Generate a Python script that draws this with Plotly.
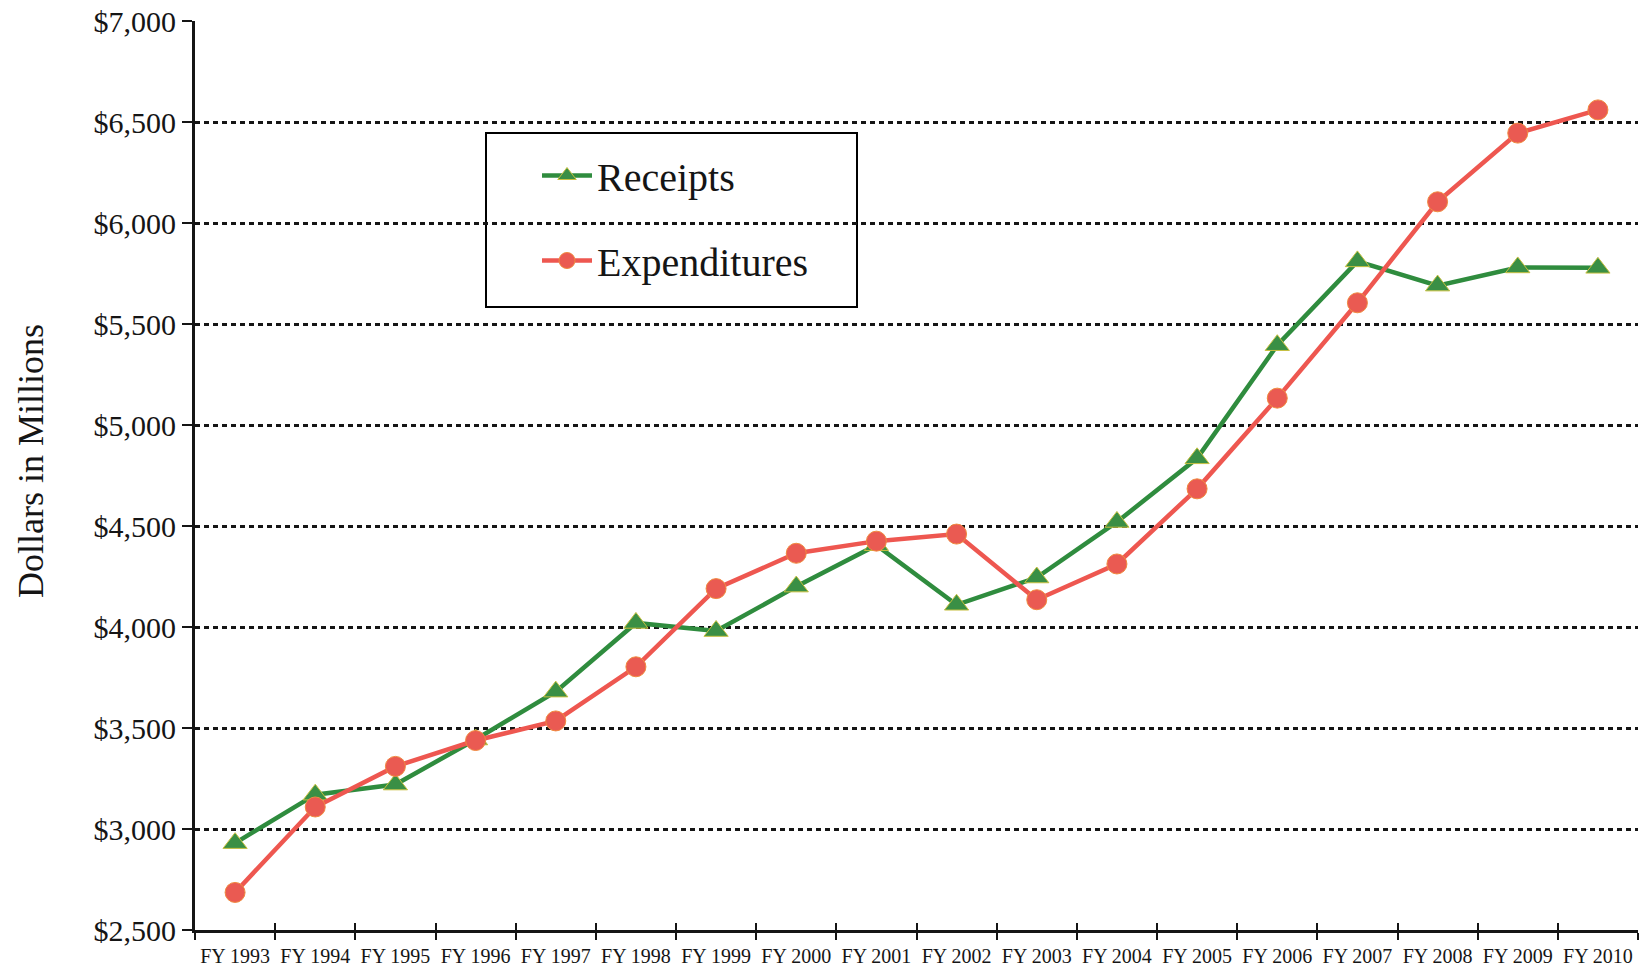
import plotly.graph_objects as go

years = ["FY 1993", "FY 1994", "FY 1995", "FY 1996", "FY 1997", "FY 1998",
         "FY 1999", "FY 2000", "FY 2001", "FY 2002", "FY 2003", "FY 2004",
         "FY 2005", "FY 2006", "FY 2007", "FY 2008", "FY 2009", "FY 2010"]
receipts = [2930, 3170, 3220, 3443, 3680, 4020, 3980, 4200, 4405, 4110,
            4245, 4520, 4835, 5395, 5810, 5690, 5780, 5778]
expenditures = [2686, 3109, 3310, 3438, 3535, 3803, 4190, 4365, 4425, 4460,
                4135, 4312, 4684, 5133, 5605, 6105, 6445, 6560]
y_ticks = [2500, 3000, 3500, 4000, 4500, 5000, 5500, 6000, 6500, 7000]
y_tick_labels = ["$2,500", "$3,000", "$3,500", "$4,000", "$4,500",
                 "$5,000", "$5,500", "$6,000", "$6,500", "$7,000"]

W, H = 1642, 971
ML, MR, MT, MB = 195, 4, 21, 41
PW, PH = W - ML - MR, H - MT - MB


def px_x(x):
    return (x - ML) / PW


def px_y(y):
    return (H - MB - y) / PH


SERIF = "Liberation Serif, Times New Roman, serif"
GREEN = "#2f8c3e"
RED = "#ee5750"
INK = "#151515"

fig = go.Figure()
fig.add_trace(go.Scatter(
    x=years, y=receipts, name="Receipts", mode="lines+markers",
    legendgroup="r",
    line=dict(color=GREEN, width=4.5),
    marker=dict(symbol="triangle-up", size=21, color="#3a8f45",
                line=dict(color="#c8c040", width=1)),
))
fig.add_trace(go.Scatter(
    x=years, y=expenditures, name="Expenditures", mode="lines+markers",
    legendgroup="e",
    line=dict(color=RED, width=4.5),
    marker=dict(symbol="circle", size=20, color="#ea5a52",
                line=dict(color="#f08a40", width=1)),
))
# helper trace on overlaid axis to draw the inner half of the crossing x ticks
fig.add_trace(go.Scatter(
    x=years, y=receipts, xaxis="x2", mode="lines", showlegend=False,
    hoverinfo="skip", line=dict(width=0), opacity=0,
))

# legend frame
fig.add_shape(type="rect", xref="paper", yref="paper",
              x0=px_x(486), x1=px_x(857), y0=px_y(307), y1=px_y(133),
              line=dict(color="black", width=2), fillcolor="white",
              layer="below")

fig.add_annotation(text="Dollars in Millions", textangle=-90,
                   xref="paper", yref="paper", x=px_x(31), y=px_y(461),
                   showarrow=False, font=dict(family=SERIF, size=36, color=INK),
                   xanchor="center", yanchor="middle")

fig.update_layout(
    width=W, height=H,
    margin=dict(l=ML, r=MR, t=MT, b=MB),
    paper_bgcolor="white", plot_bgcolor="rgba(0,0,0,0)",
    font=dict(family=SERIF, color=INK),
    showlegend=True,
    legend=dict(x=px_x(537), y=px_y(143), xanchor="left", yanchor="top",
                bgcolor="rgba(0,0,0,0)", borderwidth=0,
                font=dict(family=SERIF, size=40, color=INK),
                tracegroupgap=30, itemwidth=50),
    xaxis=dict(
        type="category", range=[-0.5, 17.5], tickson="boundaries",
        showgrid=False, showline=True, linecolor=INK, linewidth=3,
        ticks="outside", ticklen=7, tickwidth=2, tickcolor=INK,
        tickfont=dict(family=SERIF, size=20, color=INK),
        ticklabelstandoff=6,
        zeroline=False, fixedrange=True,
    ),
    xaxis2=dict(
        type="category", range=[-0.5, 17.5], tickson="boundaries",
        overlaying="x", anchor="y", side="bottom",
        showgrid=False, showline=False, showticklabels=False,
        ticks="inside", ticklen=7, tickwidth=2, tickcolor=INK,
        zeroline=False, fixedrange=True,
    ),
    yaxis=dict(
        range=[2500, 7000], tickvals=y_ticks, ticktext=y_tick_labels,
        showgrid=True, gridcolor=INK, gridwidth=3, griddash="5px,4px",
        showline=True, linecolor=INK, linewidth=3,
        ticks="outside", ticklen=10, tickwidth=2, tickcolor=INK,
        tickfont=dict(family=SERIF, size=30, color=INK),
        zeroline=False, fixedrange=True,
    ),
)

fig.write_html("out.html")
